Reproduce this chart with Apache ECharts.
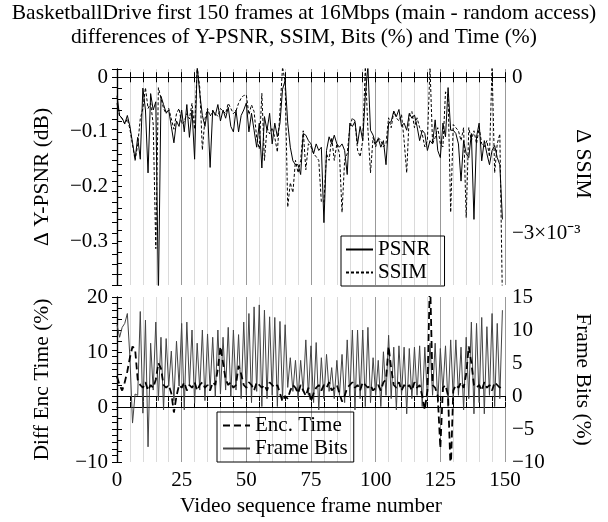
<!DOCTYPE html>
<html>
<head>
<meta charset="utf-8">
<script src="https://cdn.jsdelivr.net/npm/echarts@6.0.0/dist/echarts.min.js"></script>
<style>
html, body { margin: 0; padding: 0; background: #fff; }
#chart { width: 608px; height: 522px; }
</style>
</head>
<body>
<div id="chart"></div>
<script>
// values per frame, frame 0 .. 149
var psnr = [
	-0.034, -0.07, -0.075, -0.085, -0.07, -0.09, -0.12, -0.15, -0.11, -0.15,
	-0.02, -0.06, -0.175, -0.03, -0.06, -0.045, -0.4, -0.035, -0.05, -0.065,
	-0.06, -0.09, -0.12, -0.08, -0.09, -0.06, -0.1, -0.05, -0.11, -0.06,
	-0.15, 0.02, -0.03, -0.07, -0.09, -0.06, -0.165, -0.06, -0.07, -0.05,
	-0.08, -0.06, -0.075, -0.055, -0.09, -0.1, -0.06, -0.1, -0.07, -0.06,
	-0.047, -0.1, -0.066, -0.097, -0.128, -0.084, -0.166, -0.072, -0.097, -0.066,
	-0.122, -0.084, -0.109, -0.084, -0.022, -0.006, -0.084, -0.128, -0.153, -0.16,
	-0.16, -0.178, -0.103, -0.106, -0.116, -0.122, -0.14, -0.122, -0.134, -0.128,
	-0.266, -0.134, -0.109, -0.122, -0.106, -0.122, -0.128, -0.122, -0.134, -0.178,
	-0.084, -0.09, -0.081, -0.122, -0.09, -0.116, -0.034, 0.02, -0.097, -0.106,
	-0.122, -0.112, -0.128, -0.116, -0.16, -0.084, -0.081, -0.062, -0.072, -0.059,
	-0.09, -0.084, -0.097, -0.066, -0.075, -0.069, -0.09, -0.116, -0.097, -0.103,
	-0.134, -0.116, -0.122, -0.078, -0.134, -0.147, -0.084, -0.109, -0.019, -0.097,
	-0.097, -0.103, -0.122, -0.19, -0.116, -0.14, -0.147, -0.103, -0.26, -0.109,
	-0.084, -0.153, -0.116, -0.14, -0.16, -0.134, -0.125, -0.147, -0.16, -0.26
];
// SSIM difference in units of 1e-3
var ssim = [
	-0.5, -0.75, -0.8, -0.9, -0.8, -1.0, -1.3, -1.6, -1.3, -0.8,
	-0.6, -0.2, -0.6, -0.5, -0.9, -3.3, -0.2, -0.4, -0.6, -0.7,
	-0.6, -0.8, -1.0, -0.7, -0.6, -0.9, -0.85, -0.7, -0.8, -0.5,
	-1.0, 0.2, -0.2, -1.4, -0.8, -0.6, -0.75, -0.65, -0.7, -0.75,
	-0.6, -0.65, -0.7, -0.5, -0.6, -0.7, -0.65, -0.5, -0.4, -0.35,
	-0.34, -0.72, -0.53, -0.66, -1.16, -1.38, -0.31, -1.6, -0.97, -1.09,
	-0.97, -1.16, -1.44, -0.66, 0.2, -0.09, -2.5, -2.03, -2.22, -1.6,
	-1.84, -1.6, -1.03, -1.78, -1.28, -1.34, -1.47, -1.53, -1.6, -2.4,
	-2.4, -1.47, -1.6, -1.16, -1.6, -1.28, -1.47, -2.6, -1.6, -1.47,
	-0.97, -0.78, -0.84, -1.4, -1.53, -1.22, 0.2, -1.0, -1.84, -1.16,
	-1.34, -1.16, -1.22, -1.34, -1.28, -0.78, -0.97, -0.66, -0.78, -0.84,
	-0.72, -1.22, -1.84, -0.72, -0.66, -0.97, -0.78, -0.97, -1.09, -1.34,
	-1.22, 0.2, -1.28, -1.16, -0.97, -1.28, -1.34, -0.28, -0.34, -2.6,
	-0.91, -0.97, -1.03, -1.22, -0.97, -2.7, -0.97, -1.22, -1.03, -1.28,
	-0.97, -1.28, -1.34, -1.22, -1.53, 0.2, -1.84, -1.28, -1.09, -4.3
];
var encTime = [
	5.5, 4, 3, 4.5, 6.5, 9, 11, 10.5, 5, 4,
	3.5, 4.5, 3, 4, 3.5, 5, 8, 7, 4, 3.5,
	4, 2.5, -1, 2, 4, 3.5, 4.5, 3, 4, 3.5,
	4.5, 3, 4, 4.5, 3.5, 4, 3, 4.5, 4, 7,
	11, 8, 5, 4, 4.5, 3.5, 4, 7.5, 6, 4,
	3.5, 4.5, 4, 3, 4.5, 4, 3.5, 4, 3, 4.5,
	4, 3.5, 4, 2.5, 1, 2, 1.5, 3, 4, 3.5,
	2.5, 4, 3, 2, 3.5, 1, 2.5, 3.5, 4, 3,
	4, 3.5, 4.5, 3, 3.5, 4, 2.5, 1, 2, 3.5,
	4, 4.5, 3.5, 4, 3, 4.5, 4, 3.5, 4, 3,
	3.5, 4, 3, 4.5, 5, 11, 7, 4, 3.5, 4.5,
	3, 4, 3.5, 4, 3, 4.5, 3.5, 4, 2, -0.5,
	3, 24, 4, 3.5, 2, -7.5, 3.5, 4, 2, -12,
	3, 4, 3.5, 4.5, 3.5, 6, 11, 8, 4, 3.5,
	4, 3, 4.5, 3.5, 4, 3, 4.5, 4, 3.5, 4
];
var frameBits = [
	10.8, 8.9, 10.4, 11, 12.5, 5.8, -4.1, 0.3, 0.1, 12.8,
	-2.6, 11.5, -7.7, 8, 0.9, 11.2, -0.7, 8.9, -2.1, 8.7,
	1.5, 6.8, -0.7, 8.3, 1.5, 11, -2.1, 11.2, 1.5, 10,
	-1.1, 8, 0.9, 10, -0.7, 9.4, 0.9, 8.9, -0.1, 10,
	0.3, 8.9, 0.9, 10.4, -0.1, 10, 0.9, 9.3, -0.4, 11.2,
	0.1, 12.5, -1, 13.5, 0.7, 13.8, -1.6, 13, -0.4, 12,
	0.1, 11.9, -1.6, 11.3, -0.4, 10.8, 1.3, 5.8, 0.7, 5.4,
	-0.4, 5.4, 0.7, 8.5, 0.1, 7.6, -1, 8.1, -2.1, 5.8,
	-0.4, 6.3, 0.7, 4.3, -0.4, 5.4, 0.1, 6.3, -1, 8.5,
	-0.2, 10, -2.1, 10, -0.4, 10, -1.6, 10.4, -1, 5.8,
	0.1, 5.4, -1.6, 6.7, 0.1, 9.2, -0.4, 7.4, -2.1, 7.6,
	0.1, 7.4, -2.7, 7.2, -0.4, 7.4, 0.1, 7.6, -1.6, 7.4,
	-0.4, 8, 0.1, 8, -1, 7.2, 0.7, 7.6, -1.6, 8.5,
	-0.4, 8.5, 0.1, 7.4, -2.1, 8.9, -0.4, 11.2, -2.7, 11,
	-1, 11.9, -2.7, 10.5, 0.1, 12.5, -1.6, 11, -0.4, 13
];

// labelled ticks
var frameTicks = [0, 25, 50, 75, 100, 125, 150];
var psnrTicks = [0, -0.1, -0.2, -0.3];
var ssimTicks = [0, -3];
var timeTicks = [-10, 0, 10, 20];
var bitsTicks = [-10, -5, 0, 5, 10, 15];

var FONT = "'Liberation Serif', 'Times New Roman', serif";
var G1 = { top: 69, height: 216 };
var G2 = { top: 297, height: 165 };

function pairs(arr) {
	return arr.map(function(v, i) { return [i, v]; });
}
function hasTick(list, v) {
	for (var i = 0; i < list.length; i++) {
		if (Math.abs(list[i] - v) < 1e-6) return true;
	}
	return false;
}
function minus(s) {
	return String(s).replace('-', '\u2212');
}
function labelOf(list, digits) {
	return function(v) {
		if (!hasTick(list, v)) return '';
		if (Math.abs(v) < 1e-9) return '0';
		return minus(digits ? v.toFixed(digits) : Math.round(v));
	};
}

function xAxes(gridIndex, showLabels) {
	var bottom = {
		type : 'value', gridIndex : gridIndex, position : 'bottom',
		min : 0, max : 150, interval : 5,
		axisLine : { lineStyle : { color : '#000', width : 1.2 } },
		axisTick : { inside : true, length : 5, lineStyle : { color : '#000' } },
		axisLabel : {
			show : showLabels, margin : 8, color : '#000',
			fontFamily : FONT, fontSize : 21,
			formatter : function(v) { return hasTick(frameTicks, v) ? String(v) : ''; }
		},
		splitLine : { show : true, lineStyle : {
			color : ['#999', '#dadada', '#dadada', '#dadada', '#dadada'], width : 1 } }
	};
	if (showLabels) {
		bottom.name = 'Video sequence frame number';
		bottom.nameLocation = 'middle';
		bottom.nameGap = 33;
		bottom.nameMoveOverlap = false;
		bottom.nameTextStyle = { color : '#000', fontFamily : FONT, fontSize : 21.5 };
	}
	var top = {
		type : 'value', gridIndex : gridIndex, position : 'top',
		min : 0, max : 150, interval : 5,
		axisLine : { lineStyle : { color : '#000', width : 1.2 } },
		axisTick : { inside : true, length : 5, lineStyle : { color : '#000' } },
		axisLabel : { show : false },
		splitLine : { show : false }
	};
	return [bottom, top];
}

function yAxis(gridIndex, pos, min, max, interval, fmt, name, gap, namePad) {
	return {
		type : 'value', gridIndex : gridIndex, position : pos,
		min : min, max : max, interval : interval,
		name : name, nameLocation : 'middle', nameGap : gap,
		nameMoveOverlap : false,
		nameRotate : pos == 'left' ? 90 : -90,
		nameTextStyle : { color : '#000', fontFamily : FONT, fontSize : 21.5,
			padding : namePad || 0 },
		axisLine : { show : true, lineStyle : { color : '#000', width : 1.2 } },
		axisTick : { show : true, inside : true, length : 5, lineStyle : { color : '#000' } },
		axisLabel : {
			color : '#000', fontFamily : FONT, fontSize : 21,
			margin : pos == 'left' ? 9 : 7,
			showMinLabel : true, showMaxLabel : true,
			formatter : fmt
		},
		splitLine : { show : false }
	};
}

var legendBase = {
	orient : 'vertical', itemWidth : 27, itemHeight : 2, itemGap : 2,
	borderColor : '#000', borderWidth : 1, borderRadius : 0,
	itemStyle : { opacity : 0 },
	textStyle : { color : '#000', fontFamily : FONT, fontSize : 21, lineHeight : 20 }
};

var chart = echarts.init(document.getElementById('chart'));

var option = {
	animation : false,
	backgroundColor : '#fff',
	title : {
		text : 'BasketballDrive first 150 frames at 16Mbps (main - random access)\n'
			+ 'differences of Y-PSNR, SSIM, Bits (%) and Time (%)',
		left : 'center', top : 1, padding : 0,
		textStyle : { color : '#000', fontFamily : FONT, fontSize : 21.5,
			fontWeight : 'normal', lineHeight : 24 }
	},
	grid : [
		{ left : 117, right : 103, top : G1.top, height : G1.height, outerBoundsMode : 'none' },
		{ left : 117, right : 103, top : G2.top, height : G2.height, outerBoundsMode : 'none' }
	],
	xAxis : xAxes(0, false).concat(xAxes(1, true)),
	yAxis : [
		yAxis(0, 'left', -0.38, 0.015, 0.02, labelOf(psnrTicks, 1), '\u0394 Y-PSNR (dB)', 64),
		yAxis(0, 'right', -4.0, 0.16, 0.2, function(v) {
			if (!hasTick(ssimTicks, v)) return '';
			return Math.abs(v) < 1e-9 ? '0' : '\u22123\u00d710\u207b\u00b3';
		}, '\u0394 SSIM', 67, [0, 26, 0, 0]),
		yAxis(1, 'left', -10, 20, 2, labelOf(timeTicks, 0), 'Diff Enc Time (%)', 64),
		yAxis(1, 'right', -10, 15, 1, labelOf(bitsTicks, 0), 'Frame Bits (%)', 67)
	],
	legend : [
		echarts.util.merge({
			data : [ 'PSNR', 'SSIM' ],
			left : 341, top : G1.top + G1.height - 49,
			padding : [ 3, 14, 3, 4 ]
		}, legendBase),
		echarts.util.merge({
			data : [ 'Enc. Time', 'Frame Bits' ],
			left : 217, top : G2.top + G2.height - 50,
			padding : [ 3, 6, 3, 5 ]
		}, legendBase)
	],
	series : [ {
		name : 'PSNR', type : 'line', xAxisIndex : 0, yAxisIndex : 0,
		data : pairs(psnr), symbol : 'none', clip : true,
		lineStyle : { color : '#000', width : 1 }, itemStyle : { color : '#000' }
	}, {
		name : 'SSIM', type : 'line', xAxisIndex : 0, yAxisIndex : 1,
		data : pairs(ssim), symbol : 'none', clip : true,
		lineStyle : { color : '#000', width : 1, type : [ 3, 2 ] }, itemStyle : { color : '#000' }
	}, {
		name : 'Frame Bits', type : 'line', xAxisIndex : 2, yAxisIndex : 3,
		data : pairs(frameBits), symbol : 'none', clip : true,
		lineStyle : { color : '#444', width : 1 }, itemStyle : { color : '#444' }
	}, {
		name : 'Enc. Time', type : 'line', xAxisIndex : 2, yAxisIndex : 2,
		data : pairs(encTime), symbol : 'none', clip : true,
		lineStyle : { color : '#000', width : 1.8, type : [ 7, 4 ] }, itemStyle : { color : '#000' }
	} ]
};

chart.setOption(option);
</script>
</body>
</html>
